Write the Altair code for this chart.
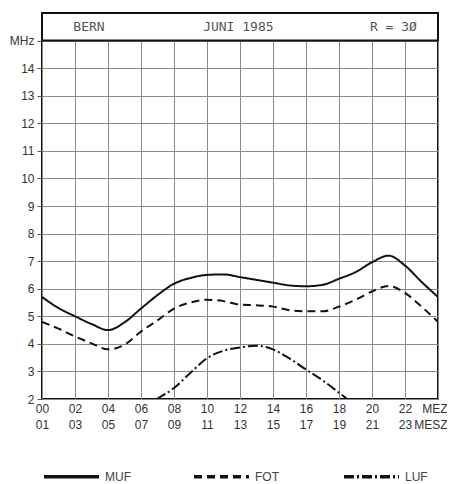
import altair as alt
import pandas as pd

# --- data ---
muf_hours = list(range(0, 25))
muf_vals = [5.7, 5.3, 5.0, 4.72, 4.5, 4.78, 5.28, 5.77, 6.18, 6.39, 6.5, 6.52, 6.42,
            6.32, 6.22, 6.12, 6.09, 6.14, 6.36, 6.6, 6.96, 7.2, 6.84, 6.25, 5.7]
fot_hours = list(range(0, 25))
fot_vals = [4.8, 4.55, 4.27, 4.02, 3.8, 3.97, 4.45, 4.85, 5.28, 5.5, 5.6, 5.55, 5.42,
            5.4, 5.35, 5.22, 5.18, 5.18, 5.35, 5.6, 5.9, 6.1, 5.85, 5.35, 4.8]
luf_hours = [6.95, 8, 9, 10, 11, 12, 13, 14, 15, 16, 17, 18, 18.5]
luf_vals = [2.0, 2.4, 2.95, 3.48, 3.75, 3.87, 3.93, 3.8, 3.47, 3.07, 2.68, 2.23, 2.0]

series_names = ["MUF", "FOT", "LUF"]
title_texts = ["BERN", "JUNI 1985", "R = 3Ø"]
title_pos = [2.85, 11.9, 21.3]
x_ticks = list(range(0, 25, 2))
y_ticks = list(range(2, 16))

rows = []
for name, hs, vs in [("MUF", muf_hours, muf_vals), ("FOT", fot_hours, fot_vals),
                     ("LUF", luf_hours, luf_vals)]:
    for h, v in zip(hs, vs):
        rows.append({"hour": h, "mhz": v, "series": name})
df = pd.DataFrame(rows)

title_df = pd.DataFrame({"hour": title_pos, "mhz": [15.5] * 3, "text": title_texts})
box_df = pd.DataFrame({"x0": [0], "x1": [24], "y0": [15], "y1": [16]})

x_scale = alt.Scale(domain=[0, 24], nice=False, zero=False)
y_scale = alt.Scale(domain=[2, 16], nice=False, zero=False)

x_axis = alt.Axis(
    values=x_ticks, title=None, grid=True, gridColor="#8a8a8a", gridWidth=1,
    domain=False, ticks=False, labelPadding=4, labelFont="Liberation Sans",
    labelFontSize=12, labelColor="#333", labelLineHeight=16,
    labelOverlap=False, labelFlush=False,
    labelAlign={"condition": {"test": "datum.value == 24", "value": "right"}, "value": "center"},
    labelOffset={"condition": {"test": "datum.value == 24", "value": 9}, "value": 0},
    labelExpr="datum.value == 24 ? ['MEZ', 'MESZ'] : "
              "[(datum.value < 10 ? '0' : '') + datum.value, "
              "(datum.value + 1 < 10 ? '0' : '') + (datum.value + 1)]",
)
y_axis = alt.Axis(
    values=y_ticks, title=None, grid=True, gridColor="#8a8a8a", gridWidth=1,
    domain=False, ticks=True, tickSize=5, tickColor="#555", labelPadding=3,
    labelFont="Liberation Sans", labelFontSize=12, labelColor="#333",
    labelOverlap=False, labelFlush=False,
    labelExpr="datum.value == 15 ? 'MHz' : datum.label",
)

base = alt.Chart(df)

lines = base.mark_line(interpolate="monotone", strokeWidth=2, color="#111", clip=True).encode(
    x=alt.X("hour:Q", scale=x_scale, axis=x_axis),
    y=alt.Y("mhz:Q", scale=y_scale, axis=y_axis),
    strokeDash=alt.StrokeDash(
        "series:N",
        scale=alt.Scale(domain=series_names, range=[[1, 0], [8, 5], [10, 3, 2, 3]]),
        legend=alt.Legend(
            title=None, orient="none", legendX=0, legendY=434, direction="horizontal",
            columns=3, gridAlign="all", columnPadding=56, symbolType="stroke",
            symbolSize=3025, symbolStrokeWidth=3.5, symbolStrokeColor="#111",
            labelFont="Liberation Sans", labelFontSize=12, labelColor="#444",
            labelOffset=4,
        ),
    ),
    detail="series:N",
)

box = alt.Chart(box_df).mark_rect(fill="white", stroke="#111", strokeWidth=2).encode(
    x=alt.X("x0:Q", scale=x_scale, axis=x_axis), x2="x1:Q",
    y=alt.Y("y0:Q", scale=y_scale, axis=y_axis), y2="y1:Q",
)

titles = alt.Chart(title_df).mark_text(
    font="DejaVu Sans Mono", fontSize=13, color="#555"
).encode(
    x=alt.X("hour:Q", scale=x_scale, axis=x_axis),
    y=alt.Y("mhz:Q", scale=y_scale, axis=y_axis),
    text="text:N",
)

chart = alt.layer(lines, box, titles).properties(
    width=396, height=386, background="white",
    padding={"left": 1, "top": 4, "right": 0, "bottom": 0},
).configure_view(stroke="#111", strokeWidth=2)

chart.save("out.html", embed_options={"renderer": "svg", "actions": False})
